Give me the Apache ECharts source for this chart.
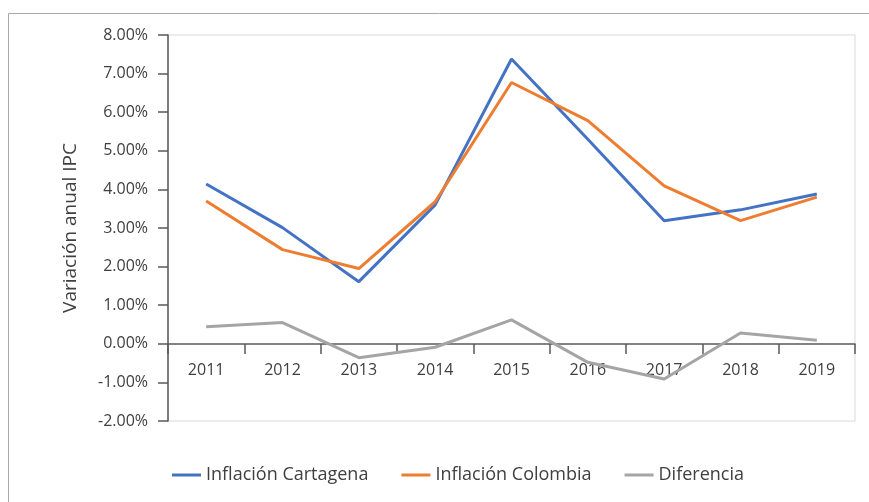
<!DOCTYPE html>
<html>
<head>
<meta charset="utf-8">
<script src="https://cdn.jsdelivr.net/npm/echarts@6/dist/echarts.min.js"></script>
<style>
  html, body { margin: 0; padding: 0; background: #fff; }
  #chart { width: 869px; height: 502px; }
</style>
</head>
<body>
<div id="chart"></div>
<script>
// datos (en %)
const years = ['2011', '2012', '2013', '2014', '2015', '2016', '2017', '2018', '2019'];
const cartagena = [4.14, 3.01, 1.61, 3.60, 7.38, 5.30, 3.19, 3.47, 3.88];
const colombia = [3.70, 2.44, 1.95, 3.68, 6.77, 5.78, 4.09, 3.19, 3.80];
const diferencia = [0.44, 0.55, -0.36, -0.09, 0.62, -0.48, -0.91, 0.28, 0.09];

const font = 'Open Sans';
const chart = echarts.init(document.getElementById('chart'));

const lineSeries = (name, data, color) => ({
  name: name,
  type: 'line',
  data: data,
  symbol: 'none',
  color: color,
  lineStyle: { width: 3, color: color },
  animation: false
});

chart.setOption({
  textStyle: { fontFamily: font },
  graphic: [{
    type: 'rect',
    shape: { x: 8.5, y: 13.5, width: 1000, height: 1000 },
    style: { fill: 'none', stroke: '#a9a9a9', lineWidth: 1 },
    silent: true
  }],
  grid: {
    left: 168, right: 14, top: 35, bottom: 81,
    show: true, borderColor: '#d9d9d9', borderWidth: 1
  },
  legend: {
    top: 461,
    left: 167,
    icon: 'rect',
    itemWidth: 29,
    itemHeight: 3,
    itemGap: 33,
    textStyle: { fontFamily: font, fontSize: 18, color: '#404040' },
    data: ['Inflación Cartagena', 'Inflación Colombia', 'Diferencia']
  },
  xAxis: {
    type: 'category',
    data: years,
    boundaryGap: true,
    offset: -77,
    axisLine: { onZero: false, lineStyle: { color: '#595959', width: 1.5 } },
    axisTick: { show: true, length: 10, lineStyle: { color: '#595959', width: 1.5 } },
    axisLabel: { color: '#404040', fontSize: 16, margin: 18, fontFamily: font },
    splitLine: { show: false }
  },
  yAxis: {
    type: 'value',
    min: -2, max: 8, interval: 1,
    name: 'Variación anual IPC',
    nameLocation: 'middle',
    nameGap: 88,
    nameTextStyle: { color: '#404040', fontSize: 19, fontFamily: font },
    axisLine: { show: true, lineStyle: { color: '#595959', width: 1.5 } },
    axisTick: { show: true, length: 10, lineStyle: { color: '#595959', width: 1.5 } },
    axisLabel: {
      color: '#404040', fontSize: 16, margin: 20, fontFamily: font,
      formatter: v => v.toFixed(2) + '%'
    },
    splitLine: { show: false }
  },
  series: [
    lineSeries('Inflación Cartagena', cartagena, '#4472C4'),
    lineSeries('Inflación Colombia', colombia, '#ED7D31'),
    lineSeries('Diferencia', diferencia, '#A5A5A5')
  ]
});
</script>
</body>
</html>
